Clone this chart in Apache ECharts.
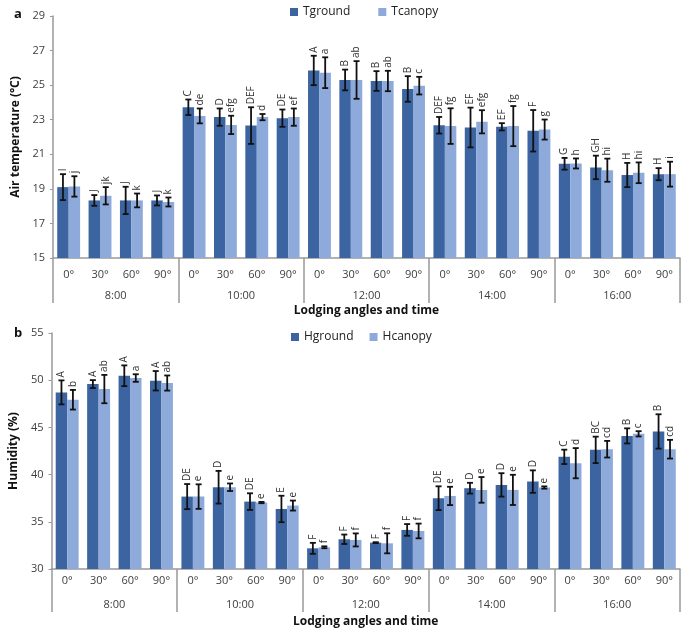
<!DOCTYPE html>
<html lang="en">
<head>
    <meta charset="UTF-8">
    <title>Lodging angles</title>
    <script src="https://cdn.jsdelivr.net/npm/echarts@6/dist/echarts.min.js"></script>
    <style>
        html, body { margin: 0; padding: 0; background: #fff; }
        #main { width: 685px; height: 634px; }
    </style>
</head>
<body>
    <div id="main"></div>
    <script type="text/javascript">
        // categories
        var angles = ['0°', '30°', '60°', '90°'];
        var times = ['8:00', '10:00', '12:00', '14:00', '16:00'];
        var angleCats = [];
        for (var t = 0; t < times.length; t++) {
            for (var a = 0; a < angles.length; a++) angleCats.push(angles[a]);
        }

        // a: air temperature (°C)
        var tGround = [19.10, 18.33, 18.33, 18.33, 23.72, 23.15, 22.66, 23.09, 25.85, 25.30, 25.24, 24.78, 22.68, 22.55, 22.59, 22.36, 20.45, 20.24, 19.80, 19.85];
        var tGroundErr = [0.75, 0.31, 0.79, 0.29, 0.45, 0.50, 1.06, 0.50, 0.85, 0.60, 0.57, 0.74, 0.48, 1.15, 0.21, 1.20, 0.34, 0.68, 0.70, 0.35];
        var tGroundLbl = ['I', 'J', 'J', 'J', 'C', 'D', 'DEF', 'DE', 'A', 'B', 'B', 'B', 'DEF', 'EF', 'EF', 'F', 'G', 'GH', 'H', 'H'];
        var tCanopy = [19.14, 18.60, 18.33, 18.24, 23.22, 22.70, 23.15, 23.15, 25.72, 25.30, 25.24, 24.97, 22.63, 22.88, 22.63, 22.43, 20.47, 20.08, 19.93, 19.85];
        var tCanopyErr = [0.59, 0.50, 0.40, 0.26, 0.43, 0.53, 0.18, 0.50, 0.89, 1.09, 0.59, 0.51, 1.03, 0.67, 1.16, 0.58, 0.29, 0.67, 0.60, 0.72];
        var tCanopyLbl = ['j', 'jk', 'k', 'k', 'de', 'efg', 'd', 'ef', 'a', 'ab', 'ab', 'c', 'fg', 'efg', 'fg', 'g', 'h', 'hi', 'hi', 'i'];

        // b: humidity (%)
        var hGround = [48.71, 49.59, 50.47, 49.94, 37.67, 38.66, 37.14, 36.36, 32.19, 33.15, 32.79, 34.14, 37.50, 38.56, 38.91, 39.26, 41.88, 42.62, 44.10, 44.57];
        var hGroundErr = [1.27, 0.42, 1.10, 1.03, 1.33, 1.73, 0.88, 1.40, 0.58, 0.50, 0.05, 0.62, 1.26, 0.57, 1.24, 1.19, 0.76, 1.40, 0.80, 1.82];
        var hGroundLbl = ['A', 'A', 'A', 'A', 'DE', 'D', 'DE', 'E', 'F', 'F', 'F', 'F', 'DE', 'D', 'D', 'D', 'C', 'BC', 'B', 'B'];
        var hCanopy = [47.93, 49.06, 50.23, 49.70, 37.67, 38.66, 37.04, 36.72, 32.30, 33.08, 32.72, 34.03, 37.74, 38.38, 38.38, 38.63, 41.21, 42.69, 44.32, 42.69];
        var hCanopyErr = [1.04, 1.50, 0.40, 0.80, 1.30, 0.40, 0.07, 0.53, 0.10, 0.69, 1.06, 0.78, 0.97, 1.36, 1.60, 0.12, 1.60, 0.88, 0.28, 0.99];
        var hCanopyLbl = ['b', 'ab', 'a', 'ab', 'e', 'e', 'e', 'e', 'f', 'f', 'f', 'f', 'e', 'e', 'e', 'e', 'd', 'cd', 'c', 'cd'];

        var darkBlue = '#3b64a1';
        var lightBlue = '#8eaadb';
        var axisGray = '#999999';
        var textGray = '#404040';
        var catGap = 0.27;

        function errData(vals, errs) {
            var d = [];
            for (var i = 0; i < vals.length; i++) d.push([i, vals[i], errs[i]]);
            return d;
        }

        // side: -1 left (ground) bar, +1 right (canopy) bar
        function errSeries(name, vals, errs, labels, side, xIdx, yIdx) {
            return {
                name: name + '_err',
                type: 'custom',
                xAxisIndex: xIdx,
                yAxisIndex: yIdx,
                silent: true,
                z: 5,
                encode: { x: 0, y: 1 },
                data: errData(vals, errs),
                renderItem: function (params, api) {
                    var i = api.value(0);
                    var v = api.value(1);
                    var e = api.value(2);
                    var band = api.size([1, 0])[0];
                    var bw = band * (1 - catGap) / 2;
                    var x = api.coord([i, v])[0] + side * bw / 2;
                    var hi = api.coord([i, v + e])[1];
                    var lo = api.coord([i, v - e])[1];
                    var cap = 3;
                    var st = { stroke: '#111', lineWidth: 1.8 };
                    return {
                        type: 'group',
                        children: [
                            { type: 'line', shape: { x1: x, y1: hi, x2: x, y2: lo }, style: st },
                            { type: 'line', shape: { x1: x - cap, y1: hi, x2: x + cap, y2: hi }, style: st },
                            { type: 'line', shape: { x1: x - cap, y1: lo, x2: x + cap, y2: lo }, style: st },
                            {
                                type: 'text',
                                x: x,
                                y: hi - 3,
                                rotation: Math.PI / 2,
                                style: {
                                    text: labels[params.dataIndex],
                                    fill: '#333',
                                    font: '10px "Open Sans", sans-serif',
                                    textAlign: 'left',
                                    textVerticalAlign: 'middle',
                                    align: 'left',
                                    verticalAlign: 'middle'
                                }
                            }
                        ]
                    };
                }
            };
        }

        function angleAxis(grid, margin) {
            return {
                type: 'category',
                gridIndex: grid,
                data: angleCats,
                position: 'bottom',
                axisLine: { show: true, lineStyle: { color: axisGray, width: 1.5 } },
                axisTick: { show: false },
                axisLabel: { interval: 0, margin: margin, color: textGray, fontSize: 11, fontFamily: '"Open Sans", sans-serif' }
            };
        }

        function timeAxis(grid, margin, tickLen, nameGap) {
            return {
                type: 'category',
                gridIndex: grid,
                data: times,
                position: 'bottom',
                axisLine: { show: false },
                axisTick: { show: true, length: tickLen, lineStyle: { color: axisGray, width: 1.5 } },
                axisLabel: { interval: 0, margin: margin, color: textGray, fontSize: 11, fontFamily: '"Open Sans", sans-serif' },
                name: 'Lodging angles and time',
                nameLocation: 'middle',
                nameGap: nameGap,
                nameTextStyle: { color: '#111', fontSize: 12, fontWeight: 'bold', fontFamily: '"Open Sans", sans-serif' }
            };
        }

        function valueAxis(grid, min, max, interval, name, nameGap) {
            return {
                type: 'value',
                gridIndex: grid,
                min: min,
                max: max,
                interval: interval,
                name: name,
                nameLocation: 'middle',
                nameGap: nameGap,
                nameTextStyle: { color: '#111', fontSize: 12, fontWeight: 'bold', fontFamily: '"Open Sans", sans-serif' },
                splitLine: { show: false },
                axisLine: { show: true, lineStyle: { color: axisGray, width: 1.5 } },
                axisTick: { show: true, length: 3, lineStyle: { color: axisGray } },
                axisLabel: { margin: 8, color: textGray, fontSize: 11, fontFamily: '"Open Sans", sans-serif' }
            };
        }

        function barSeries(name, vals, color, xIdx, yIdx) {
            return {
                name: name,
                type: 'bar',
                xAxisIndex: xIdx,
                yAxisIndex: yIdx,
                data: vals,
                barGap: '0%',
                barCategoryGap: (catGap * 100) + '%',
                itemStyle: { color: color },
                silent: true
            };
        }

        var chart = echarts.init(document.getElementById('main'));
        var option = {
            animation: false,
            backgroundColor: '#fff',
            title: [
                { text: 'a', left: 9, top: 3, textStyle: { fontSize: 13, fontWeight: 'bold', color: '#111', fontFamily: '"Open Sans", sans-serif' } },
                { text: 'b', left: 9, top: 322, textStyle: { fontSize: 13, fontWeight: 'bold', color: '#111', fontFamily: '"Open Sans", sans-serif' } }
            ],
            legend: [
                {
                    data: ['Tground', 'Tcanopy'],
                    left: 285, top: 1,
                    itemWidth: 8, itemHeight: 8, itemGap: 28,
                    icon: 'rect',
                    textStyle: { color: '#222', fontSize: 12, fontFamily: '"Open Sans", sans-serif' }
                },
                {
                    data: ['Hground', 'Hcanopy'],
                    left: 286, top: 326,
                    itemWidth: 8, itemHeight: 8, itemGap: 16,
                    icon: 'rect',
                    textStyle: { color: '#222', fontSize: 12, fontFamily: '"Open Sans", sans-serif' }
                }
            ],
            grid: [
                { left: 53, right: 5, top: 16, height: 242 },
                { left: 50, right: 5, top: 333, height: 236 }
            ],
            xAxis: [
                angleAxis(0, 11),
                timeAxis(0, 32, 45, 47),
                angleAxis(1, 6),
                timeAxis(1, 30, 43, 47)
            ],
            yAxis: [
                valueAxis(0, 15, 29, 2, 'Air temperature (°C)', 31),
                valueAxis(1, 30, 55, 5, 'Humidity (%)', 30)
            ],
            series: [
                barSeries('Tground', tGround, darkBlue, 0, 0),
                barSeries('Tcanopy', tCanopy, lightBlue, 0, 0),
                errSeries('Tground', tGround, tGroundErr, tGroundLbl, -1, 0, 0),
                errSeries('Tcanopy', tCanopy, tCanopyErr, tCanopyLbl, 1, 0, 0),
                barSeries('Hground', hGround, darkBlue, 2, 1),
                barSeries('Hcanopy', hCanopy, lightBlue, 2, 1),
                errSeries('Hground', hGround, hGroundErr, hGroundLbl, -1, 2, 1),
                errSeries('Hcanopy', hCanopy, hCanopyErr, hCanopyLbl, 1, 2, 1)
            ]
        };
        chart.setOption(option);
    </script>
</body>
</html>
